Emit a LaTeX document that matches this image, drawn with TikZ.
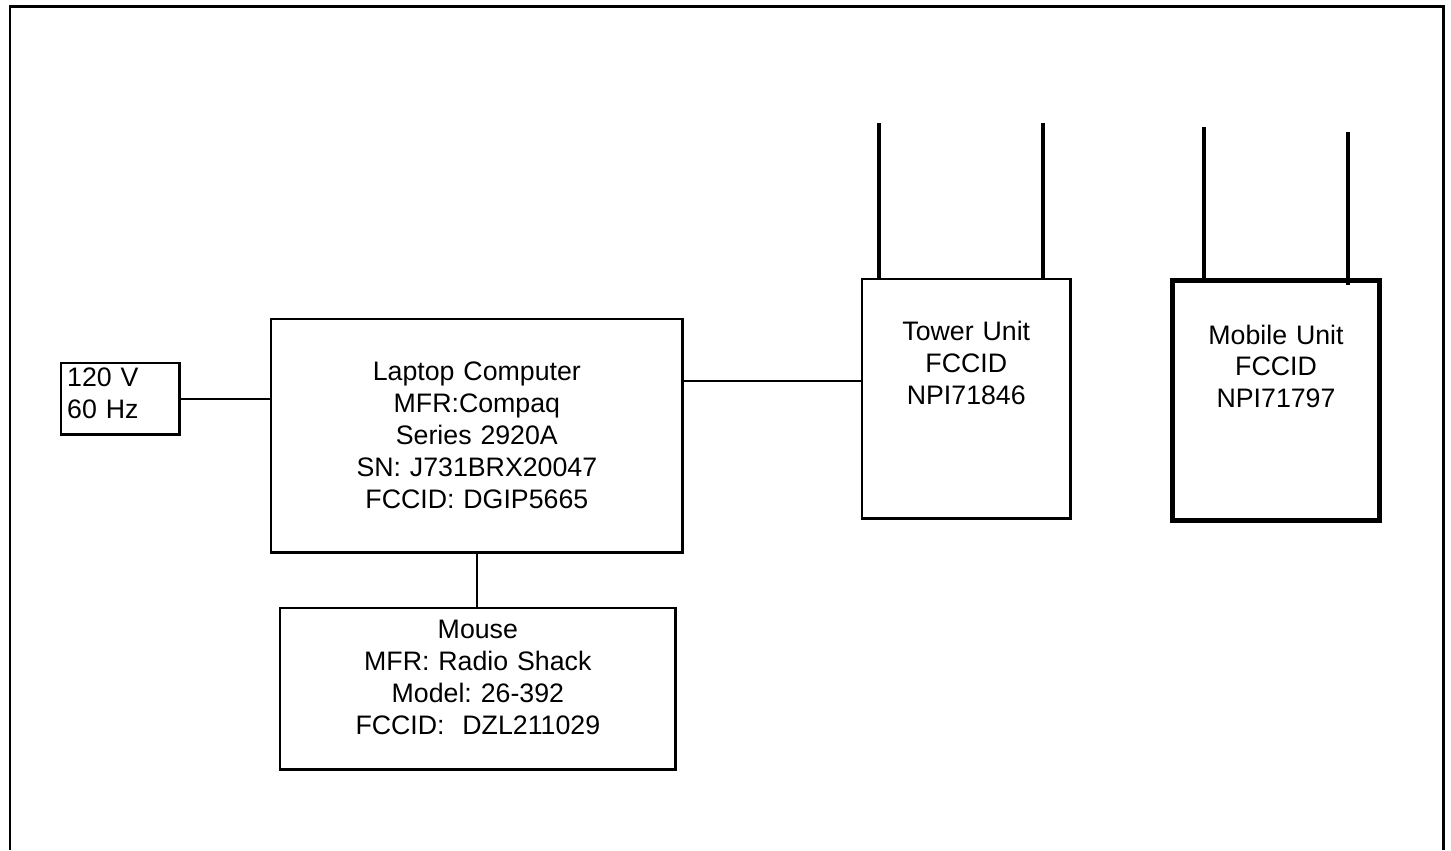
\documentclass[tikz,border=0pt]{standalone}
\usepackage{fontspec}
\setmainfont{Liberation Sans}
\frenchspacing
\usetikzlibrary{positioning}

\tikzset{
  unitbox/.style={draw,line width=0.7pt,inner sep=0pt,anchor=north west,align=center,
    font=\fontsize{7.6}{9.05}\selectfont},
  wire/.style={line width=0.6pt},
  antenna/.style={line width=1.4pt}
}

\begin{document}
\begin{tikzpicture}[x=0.01cm,y=-0.01cm]
\useasboundingbox (0,0) rectangle (1451,850);
% outer frame (cut at the bottom)
\draw[line width=0.85pt] (10,850) -- (10,6) -- (1443,6) -- (1443,850);
% boxes: text height = box top to first baseline
\node[unitbox,align=left,inner xsep=0.06cm,text width=1.06cm,text height=0.235cm,text depth=0.475cm] (pwr) at (60,362) {120 V\\60 Hz};
\node[unitbox,text width=4.11cm,text height=0.615cm,text depth=1.715cm] (laptop) at (270,318)
  {Laptop Computer\\MFR:Compaq\\Series 2920A\\SN: J731BRX20047\\FCCID: DGIP5665};
\node[unitbox,text width=3.95cm,text height=0.305cm,text depth=1.305cm] (mouse) at (279,607)
  {Mouse\\MFR: Radio Shack\\Model: 26-392\\FCCID: ~DZL211029};
\node[unitbox,text width=2.08cm,text height=0.615cm,text depth=1.775cm] (tower) at (861,278)
  {Tower Unit\\FCCID\\NPI71846};
\node[unitbox,line width=1.4pt,text width=2.07cm,text height=0.635cm,text depth=1.765cm] (mobile) at (1170,278)
  {Mobile Unit\\FCCID\\NPI71797};
% cables
\coordinate (lapout) at ([yshift=5.5mm]laptop.east);
\draw[wire] (pwr.east) -- (pwr.east -| laptop.west);
\draw[wire] (lapout) -- (lapout -| tower.west);
\draw[wire] (laptop.south) -- (laptop.south |- mouse.north);
% antennas
\coordinate (towerantA) at (879,123);
\coordinate (towerantB) at (1043,123);
\coordinate (mobantA) at (1204,127);
\coordinate (mobantB) at (1348,132);
\draw[antenna] (towerantA) -- (towerantA |- tower.north);
\draw[antenna] (towerantB) -- (towerantB |- tower.north);
\draw[antenna] (mobantA) -- (mobantA |- mobile.north);
\draw[antenna,shorten >=-0.07cm] (mobantB) -- (mobantB |- mobile.north);
\end{tikzpicture}
\end{document}
